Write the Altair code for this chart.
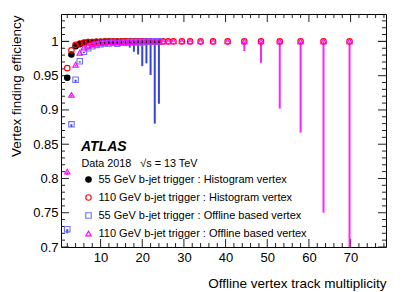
import altair as alt
import pandas as pd

# ---------------- data ----------------
x55 = list(range(2, 25))
hist55 = [0.947, 0.981, 0.993, 0.996, 0.998, 0.999, 0.999, 0.9995, 0.9996, 0.9997,
          0.9998, 0.9998, 0.9999, 0.9999, 1.0, 1.0, 1.0, 1.0, 1.0, 1.0, 1.0, 1.0, 1.0]
off55 = [0.726, 0.879, 0.944, 0.971, 0.985, 0.990, 0.993, 0.995, 0.996, 0.997,
         0.997, 0.998, 0.9966, 0.998, 0.998, 0.999, 0.999, 0.999, 0.999, 0.9995,
         0.9995, 1.0, 1.0]
off55_lo = [0.720, 0.875, 0.941, 0.969, 0.983, 0.988, 0.991, 0.993, 0.994, 0.995,
            0.995, 0.996, 0.994, 0.996, 0.993, 0.991, 0.985, 0.981, 0.964, 0.968,
            0.951, 0.880, 0.909]

x110 = list(range(2, 25)) + [25, 26.25, 27.5, 29.5, 31.5, 34, 37, 40.5, 44.5,
                             48.5, 53, 58, 63.5, 69.75]
hist110 = [0.961, 0.987, 0.995, 0.997, 0.998, 0.999, 0.999, 0.9995, 0.9996, 0.9997,
           0.9998, 0.9998, 0.9999, 0.9999, 1.0, 1.0, 1.0, 1.0, 1.0, 1.0, 1.0, 1.0,
           1.0, 1.0, 1.0, 1.0, 1.0, 1.0, 1.0, 1.0, 1.0, 1.0, 1.0, 1.0, 1.0, 1.0, 1.0]
off110 = [0.810, 0.922, 0.966, 0.9835, 0.991, 0.994, 0.996, 0.997, 0.998, 0.998,
          0.999, 0.999, 0.999, 0.9995, 0.9995, 0.9995, 0.9995, 1.0, 1.0, 1.0, 1.0,
          1.0, 1.0, 1.0, 1.0, 1.0, 1.0, 1.0, 1.0, 1.0, 1.0, 1.0, 1.0, 1.0, 1.0, 1.0, 1.0]
off110_lo = [0.805, 0.919, 0.964, 0.982, 0.990, 0.993, 0.995, 0.996, 0.997, 0.997,
             0.998, 0.998, 0.998, 0.999, 0.999, 0.999, 0.999, 0.999, 0.999, 0.999,
             0.999, 0.999, 0.999, 0.999, 0.999, 0.999, 0.999, 0.999, 0.999, 0.999,
             0.999, 0.986, 0.969, 0.902, 0.867, 0.750, 0.600]

series_names = ["\u200755 GeV b-jet trigger : Histogram vertex",
                "110 GeV b-jet trigger : Histogram vertex",
                "\u200755 GeV b-jet trigger : Offline based vertex",
                "110 GeV b-jet trigger : Offline based vertex"]
series_colors = ["black", "red", "#6f6fff", "#ff00ff"]
series_fills = ["black", "transparent", "transparent", "transparent"]
series_shapes = ["circle", "circle", "square", "triangle-up"]

x_label_vals = [10, 20, 30, 40, 50, 60, 70]
y_label_vals = [0.7, 0.75, 0.8, 0.85, 0.9, 0.95, 1.0]
x_minor = [v for v in range(2, 79, 2) if v % 10]
y_minor = [round(0.70 + 0.01 * i, 2) for i in range(1, 34) if i % 5]

# ---------------- tables ----------------
rows = []
for name, xs_, ys_ in [(series_names[0], x55, hist55), (series_names[1], x110, hist110),
                       (series_names[2], x55, off55), (series_names[3], x110, off110)]:
    for a, b in zip(xs_, ys_):
        rows.append({"x": a, "y": b, "series": name})
pts = pd.DataFrame(rows)
err55 = pd.DataFrame({"x": x55, "y": off55, "y2": off55_lo})
err110 = pd.DataFrame({"x": x110, "y": off110, "y2": off110_lo})

W, H = 325, 233
FONT = "Liberation Sans"
xs = alt.Scale(domain=[0.5, 78.5], nice=False, zero=False)
ys = alt.Scale(domain=[0.7, 1.04], nice=False, zero=False)
xax = alt.Axis(values=x_label_vals, title="Offline vertex track multiplicity",
               ticks=False, domain=False, grid=False, labelFont=FONT, labelFontSize=13,
               labelColor="black", labelPadding=4, titleFont=FONT, titleFontSize=13.5,
               titleFontWeight="normal", titleColor="black", titleAnchor="end",
               titleAlign="right", titleBaseline="middle", titleX=W, titleY=36)
yax = alt.Axis(values=y_label_vals, format="~g", title="Vertex finding efficiency",
               ticks=False, domain=False, grid=False, labelFont=FONT, labelFontSize=13,
               labelColor="black", labelPadding=3, titleFont=FONT, titleFontSize=13.5,
               titleFontWeight="normal", titleColor="black", titleAnchor="end",
               titleAlign="right", titleBaseline="top", titleAngle=270,
               titleX=-52, titleY=1)


def X(f="x"):
    return alt.X(f"{f}:Q", scale=xs, axis=xax)


def Y(f="y"):
    return alt.Y(f"{f}:Q", scale=ys, axis=yax)


bars55 = alt.Chart(err55).mark_rule(color="#3344dd", strokeWidth=2, clip=True).encode(
    x=X(), y=Y(), y2="y2:Q")
bars110 = alt.Chart(err110).mark_rule(color="#ff22ff", strokeWidth=2, clip=True).encode(
    x=X(), y=Y(), y2="y2:Q")

leg = dict(orient="none", legendX=22, legendY=160, title=None,
           labelFont=FONT, labelFontSize=11, labelColor="black",
           symbolSize=30, symbolStrokeWidth=1.1, rowPadding=6,
           labelOffset=4.5, padding=0, labelLimit=400)

points = alt.Chart(pts).mark_point(filled=False, size=30, strokeWidth=1.1, opacity=1).encode(
    x=X(), y=Y(),
    color=alt.Color("series:N", scale=alt.Scale(domain=series_names, range=series_colors),
                    legend=alt.Legend(**leg)),
    fill=alt.Fill("series:N", scale=alt.Scale(domain=series_names, range=series_fills),
                  legend=alt.Legend(**leg)),
    shape=alt.Shape("series:N", scale=alt.Scale(domain=series_names, range=series_shapes),
                    legend=alt.Legend(**leg)),
    order=alt.Order("order:Q"),
).transform_calculate(order="indexof(%s, datum.series)" % str(series_names).replace("'", '"'))

# inward ticks
TC = "#222222"
tick_layers = []
for vals, L in [(y_label_vals + [1.0], 8), (y_minor, 4)]:
    d = pd.DataFrame({"y": vals})
    tick_layers.append(alt.Chart(d).mark_rule(color=TC, strokeWidth=1).encode(
        y=Y(), x=alt.value(0), x2=alt.value(L)))
    tick_layers.append(alt.Chart(d).mark_rule(color=TC, strokeWidth=1).encode(
        y=Y(), x=alt.value(W), x2=alt.value(W - L)))
for vals, L in [(x_label_vals, 8), (x_minor, 4)]:
    d = pd.DataFrame({"x": vals})
    tick_layers.append(alt.Chart(d).mark_rule(color=TC, strokeWidth=1).encode(
        x=X(), y=alt.value(H), y2=alt.value(H - L)))
    tick_layers.append(alt.Chart(d).mark_rule(color=TC, strokeWidth=1).encode(
        x=X(), y=alt.value(0), y2=alt.value(L)))

atlas = alt.Chart(pd.DataFrame({"t": ["ATLAS"]})).mark_text(
    font=FONT, fontSize=14, fontWeight="bold", fontStyle="italic", align="left",
    baseline="middle", color="black").encode(text="t:N", x=alt.value(20), y=alt.value(133))
data_lbl = alt.Chart(pd.DataFrame({"t": ["Data 2018\u00a0\u00a0\u00a0\u221as = 13 TeV"]})).mark_text(
    font=FONT, fontSize=10.8, align="left", baseline="middle", color="black").encode(
    text="t:N", x=alt.value(20.5), y=alt.value(150))

chart = alt.layer(*tick_layers, bars55, bars110, points, atlas, data_lbl).properties(
    width=W, height=H,
    autosize=alt.AutoSizeParams(type="none"),
    padding={"left": 53, "top": 6, "right": 13, "bottom": 45},
).configure_view(stroke="black", strokeWidth=1).configure_legend(
    labelFont=FONT)

chart.save("out.html", embed_options={"renderer": "svg", "actions": False})
